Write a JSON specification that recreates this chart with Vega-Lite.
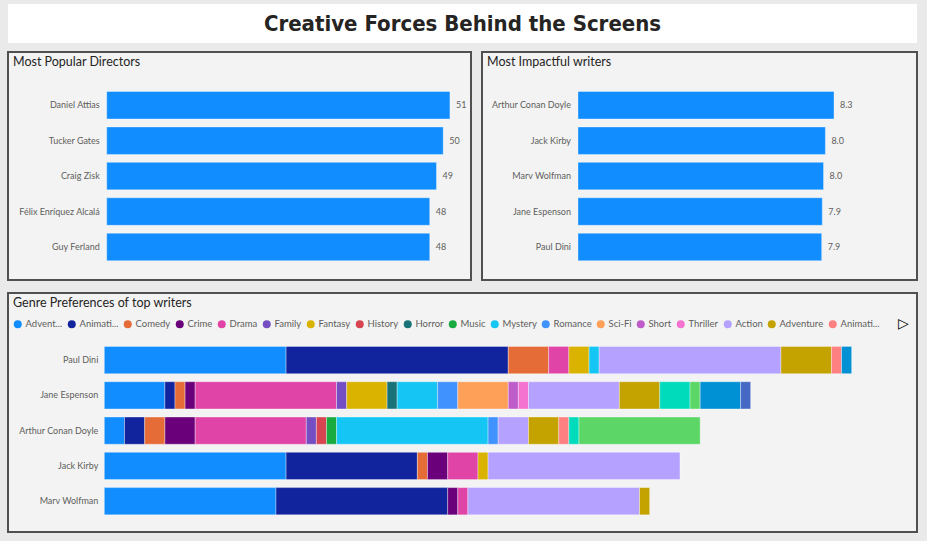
{
  "$schema": "https://vega.github.io/schema/vega-lite/v6.json",
  "background": "#EAEAEA",
  "padding": {"left": 7, "top": 4, "right": 9, "bottom": 8},
  "spacing": 8,
  "datasets": {
    "heading": [{"t": "Creative Forces Behind the Screens"}],
    "directors": [
      {"director": "Daniel Attias", "movies": 51},
      {"director": "Tucker Gates", "movies": 50},
      {"director": "Craig Zisk", "movies": 49},
      {"director": "Félix Enríquez Alcalá", "movies": 48},
      {"director": "Guy Ferland", "movies": 48}
    ],
    "writers": [
      {"writer": "Arthur Conan Doyle", "rating": 8.3},
      {"writer": "Jack Kirby", "rating": 8.02},
      {"writer": "Marv Wolfman", "rating": 7.96},
      {"writer": "Jane Espenson", "rating": 7.92},
      {"writer": "Paul Dini", "rating": 7.9}
    ],
    "genres": [
      {"writer": "Paul Dini", "genre": " Adventure", "n": 18},
      {"writer": "Paul Dini", "genre": " Animation", "n": 22},
      {"writer": "Paul Dini", "genre": " Comedy", "n": 4},
      {"writer": "Paul Dini", "genre": " Drama", "n": 2},
      {"writer": "Paul Dini", "genre": " Fantasy", "n": 2},
      {"writer": "Paul Dini", "genre": " Mystery", "n": 1},
      {"writer": "Paul Dini", "genre": "Action", "n": 18},
      {"writer": "Paul Dini", "genre": "Adventure", "n": 5},
      {"writer": "Paul Dini", "genre": "Animation", "n": 1},
      {"writer": "Paul Dini", "genre": "Drama", "n": 1},
      {"writer": "Jane Espenson", "genre": " Adventure", "n": 6},
      {"writer": "Jane Espenson", "genre": " Animation", "n": 1},
      {"writer": "Jane Espenson", "genre": " Comedy", "n": 1},
      {"writer": "Jane Espenson", "genre": " Crime", "n": 1},
      {"writer": "Jane Espenson", "genre": " Drama", "n": 14},
      {"writer": "Jane Espenson", "genre": " Family", "n": 1},
      {"writer": "Jane Espenson", "genre": " Fantasy", "n": 4},
      {"writer": "Jane Espenson", "genre": " Horror", "n": 1},
      {"writer": "Jane Espenson", "genre": " Mystery", "n": 4},
      {"writer": "Jane Espenson", "genre": " Romance", "n": 2},
      {"writer": "Jane Espenson", "genre": " Sci-Fi", "n": 5},
      {"writer": "Jane Espenson", "genre": " Short", "n": 1},
      {"writer": "Jane Espenson", "genre": " Thriller", "n": 1},
      {"writer": "Jane Espenson", "genre": "Action", "n": 9},
      {"writer": "Jane Espenson", "genre": "Adventure", "n": 4},
      {"writer": "Jane Espenson", "genre": "Comedy", "n": 3},
      {"writer": "Jane Espenson", "genre": "Crime", "n": 1},
      {"writer": "Jane Espenson", "genre": "Drama", "n": 4},
      {"writer": "Jane Espenson", "genre": "Fantasy", "n": 1},
      {"writer": "Arthur Conan Doyle", "genre": " Adventure", "n": 2},
      {"writer": "Arthur Conan Doyle", "genre": " Animation", "n": 2},
      {"writer": "Arthur Conan Doyle", "genre": " Comedy", "n": 2},
      {"writer": "Arthur Conan Doyle", "genre": " Crime", "n": 3},
      {"writer": "Arthur Conan Doyle", "genre": " Drama", "n": 11},
      {"writer": "Arthur Conan Doyle", "genre": " Family", "n": 1},
      {"writer": "Arthur Conan Doyle", "genre": " History", "n": 1},
      {"writer": "Arthur Conan Doyle", "genre": " Music", "n": 1},
      {"writer": "Arthur Conan Doyle", "genre": " Mystery", "n": 15},
      {"writer": "Arthur Conan Doyle", "genre": " Romance", "n": 1},
      {"writer": "Arthur Conan Doyle", "genre": "Action", "n": 3},
      {"writer": "Arthur Conan Doyle", "genre": "Adventure", "n": 3},
      {"writer": "Arthur Conan Doyle", "genre": "Animation", "n": 1},
      {"writer": "Arthur Conan Doyle", "genre": "Comedy", "n": 1},
      {"writer": "Arthur Conan Doyle", "genre": "Crime", "n": 12},
      {"writer": "Jack Kirby", "genre": " Adventure", "n": 18},
      {"writer": "Jack Kirby", "genre": " Animation", "n": 13},
      {"writer": "Jack Kirby", "genre": " Comedy", "n": 1},
      {"writer": "Jack Kirby", "genre": " Crime", "n": 2},
      {"writer": "Jack Kirby", "genre": " Drama", "n": 3},
      {"writer": "Jack Kirby", "genre": " Fantasy", "n": 1},
      {"writer": "Jack Kirby", "genre": "Action", "n": 19},
      {"writer": "Marv Wolfman", "genre": " Adventure", "n": 17},
      {"writer": "Marv Wolfman", "genre": " Animation", "n": 17},
      {"writer": "Marv Wolfman", "genre": " Crime", "n": 1},
      {"writer": "Marv Wolfman", "genre": " Drama", "n": 1},
      {"writer": "Marv Wolfman", "genre": "Action", "n": 17},
      {"writer": "Marv Wolfman", "genre": "Adventure", "n": 1}
    ]
  },
  "vconcat": [
    {
      "width": 909,
      "height": 39,
      "view": {"fill": "#FFFFFF", "stroke": null},
      "data": {"name": "heading"},
      "mark": {"type": "text", "font": "DejaVu Sans Condensed, sans-serif", "fontWeight": "bold", "fontSize": 22, "color": "#252423", "baseline": "middle"},
      "encoding": {"text": {"field": "t"}}
    },
    {
      "spacing": 11,
      "vconcat": [
        {
          "spacing": 11,
          "bounds": "flush",
          "hconcat": [
            {
              "width": 463,
              "height": 228,
              "view": {"fill": "#F3F3F3", "stroke": "#505050", "strokeWidth": 2},
              "title": {"text": "Most Popular Directors"},
              "data": {"name": "directors"},
              "encoding": {
                "y": {"field": "director", "type": "nominal", "axis": null,
                  "sort": ["Daniel Attias", "Tucker Gates", "Craig Zisk", "Félix Enríquez Alcalá", "Guy Ferland"],
                  "scale": {"paddingInner": 0.224, "paddingOuter": 0.83, "align": 0.672}}
              },
              "layer": [
                {
                  "mark": {"type": "bar", "color": "#118DFF", "stroke": "#FFFFFF", "strokeOpacity": 0.35, "strokeWidth": 1},
                  "encoding": {"x": {"field": "movies", "type": "quantitative", "axis": null, "scale": {"domain": [-14.67, 54.13], "zero": false, "nice": false}}}
                },
                {
                  "mark": {"type": "text", "align": "left", "dx": 6},
                  "encoding": {"x": {"field": "movies", "type": "quantitative"}, "text": {"field": "movies", "type": "quantitative"}}
                },
                {
                  "mark": {"type": "text", "align": "right", "dx": -7},
                  "encoding": {"x": {"datum": 0}, "text": {"field": "director"}}
                }
              ]
            },
            {
              "width": 435,
              "height": 228,
              "view": {"fill": "#F3F3F3", "stroke": "#505050", "strokeWidth": 2},
              "title": {"text": "Most Impactful writers"},
              "data": {"name": "writers"},
              "encoding": {
                "y": {"field": "writer", "type": "nominal", "axis": null,
                  "sort": ["Arthur Conan Doyle", "Jack Kirby", "Marv Wolfman", "Jane Espenson", "Paul Dini"],
                  "scale": {"paddingInner": 0.224, "paddingOuter": 0.83, "align": 0.672}}
              },
              "layer": [
                {
                  "mark": {"type": "bar", "color": "#118DFF", "stroke": "#FFFFFF", "strokeOpacity": 0.35, "strokeWidth": 1},
                  "encoding": {"x": {"field": "rating", "type": "quantitative", "axis": null, "scale": {"domain": [-3.112, 10.99], "zero": false, "nice": false}}}
                },
                {
                  "mark": {"type": "text", "align": "left", "dx": 6},
                  "encoding": {"x": {"field": "rating", "type": "quantitative"}, "text": {"field": "rating", "type": "quantitative", "format": ".1f"}}
                },
                {
                  "mark": {"type": "text", "align": "right", "dx": -7},
                  "encoding": {"x": {"datum": 0}, "text": {"field": "writer"}}
                }
              ]
            }
          ]
        },
        {
          "width": 909,
          "height": 239,
          "view": {"fill": "#F3F3F3", "stroke": "#505050", "strokeWidth": 2},
          "title": {"text": "Genre Preferences of top writers"},
          "data": {"name": "genres"},
          "encoding": {
            "y": {"field": "writer", "type": "nominal", "axis": null,
              "sort": ["Paul Dini", "Jane Espenson", "Arthur Conan Doyle", "Jack Kirby", "Marv Wolfman"],
              "scale": {"paddingInner": 0.228, "paddingOuter": 1.163, "align": 0.757}}
          },
          "layer": [
            {
              "mark": {"type": "bar", "stroke": "#FFFFFF", "strokeOpacity": 0.35, "strokeWidth": 1},
              "encoding": {
                "x": {"field": "n", "type": "quantitative", "aggregate": "sum", "axis": null, "scale": {"domain": [-9.535, 80.47], "zero": false, "nice": false}},
                "color": {"field": "genre", "type": "nominal",
                  "scale": {
                    "domain": [" Adventure", " Animation", " Comedy", " Crime", " Drama", " Family", " Fantasy", " History", " Horror", " Music", " Mystery", " Romance", " Sci-Fi", " Short", " Thriller", "Action", "Adventure", "Animation", "Comedy", "Crime", "Drama", "Fantasy"],
                    "range": ["#118DFF", "#12239E", "#E66C37", "#6B007B", "#E044A7", "#744EC2", "#D9B300", "#D64550", "#197278", "#1AAB40", "#15C6F4", "#4092FF", "#FFA058", "#BE5DC9", "#F472D0", "#B5A1FF", "#C4A200", "#FF8080", "#00DBBC", "#5BD667", "#0091D5", "#4668C5"]
                  },
                  "legend": {
                    "orient": "none", "legendX": 5, "legendY": 315, "direction": "horizontal", "columns": 18,
                    "values": [" Adventure", " Animation", " Comedy", " Crime", " Drama", " Family", " Fantasy", " History", " Horror", " Music", " Mystery", " Romance", " Sci-Fi", " Short", " Thriller", "Action", "Adventure", "Animation"],
                    "labelExpr": "datum.label == ' Adventure' ? 'Advent...' : (trim(datum.label) == 'Animation' ? 'Animati...' : trim(datum.label))",
                    "title": "▷", "titleOrient": "right", "titleFontSize": 14, "titleFontWeight": "bold", "titleColor": "#000000", "titlePadding": 18
                  }
                }
              }
            },
            {
              "transform": [{"aggregate": [{"op": "count", "as": "c"}], "groupby": ["writer"]}],
              "mark": {"type": "text", "align": "right", "dx": -6},
              "encoding": {"x": {"datum": 0}, "text": {"field": "writer"}}
            }
          ]
        }
      ]
    }
  ],
  "config": {
    "text": {"font": "Lato", "fontSize": 9, "fontWeight": "normal", "color": "#605E5C", "baseline": "middle"},
    "title": {"anchor": "start", "offset": -16, "dx": 5, "font": "Lato", "fontSize": 12.5, "fontWeight": "normal", "color": "#252423", "frame": "group"},
    "legend": {"symbolType": "circle", "symbolSize": 64, "symbolStrokeWidth": 0, "labelFont": "Lato", "labelFontSize": 9.5, "labelColor": "#605E5C", "columnPadding": 4, "labelOffset": 3, "titleFont": "DejaVu Sans"}
  }
}
